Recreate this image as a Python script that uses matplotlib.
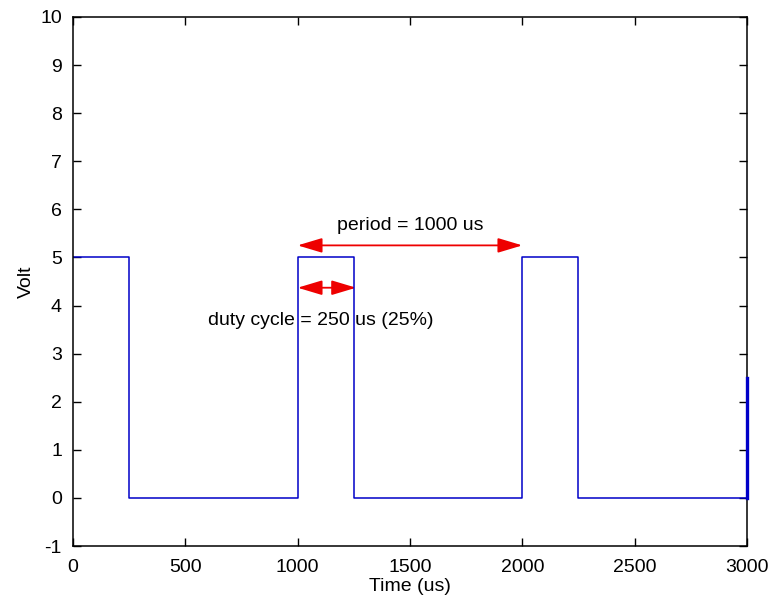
import matplotlib
matplotlib.use("Agg")
import matplotlib.pyplot as plt
from matplotlib.patches import FancyArrowPatch

# Square wave (us, V)
time_us = [0, 250, 250, 1000, 1000, 1250, 1250, 2000, 2000, 2250, 2250, 3000, 3000]
volt = [5, 5, 0, 0, 5, 5, 0, 0, 5, 5, 0, 0, 2.5]

period_arrow = (1000, 2000, 5.25)
duty_arrow = (1000, 1260, 4.37)
period_label = "period = 1000 us"
duty_label = "duty cycle = 250 us (25%)"

plt.rcParams["font.family"] = ["Liberation Sans", "DejaVu Sans"]
plt.rcParams["axes.unicode_minus"] = False

fig = plt.figure(figsize=(7.7, 6.04), dpi=100)
ax = fig.add_axes([0.0948, 0.096, 0.8753, 0.876])

ax.plot(time_us, volt, color="#0000c8", linewidth=1.1)
ax.plot(time_us[-2:], volt[-2:], color="#0000c8", linewidth=2.4, zorder=5, clip_on=False)

for x0, x1, y in (period_arrow, duty_arrow):
    ax.add_patch(FancyArrowPatch((x0, y), (x1, y), arrowstyle="<|-|>,head_length=15,head_width=4.5",
                                 color="#ee0000", linewidth=1.3, mutation_scale=1, shrinkA=0, shrinkB=0))

ax.text(1500, 5.67, period_label, ha="center", va="center", fontsize=14)
ax.text(600, 3.69, duty_label, ha="left", va="center", fontsize=14)

ax.set_xlim(0, 3000)
ax.set_ylim(-1, 10)
ax.set_xticks(range(0, 3001, 500))
ax.set_yticks(range(-1, 11))
ax.tick_params(direction="in", top=True, right=True, labelsize=14, length=6, width=1)
ax.tick_params(axis="x", pad=9)
ax.tick_params(axis="y", pad=8)
for s in ax.spines.values():
    s.set_linewidth(1.1)
ax.set_xlabel("Time (us)", fontsize=14, labelpad=2)
ax.set_ylabel("Volt", fontsize=14, labelpad=4)

fig.savefig("out.png", dpi=100)
